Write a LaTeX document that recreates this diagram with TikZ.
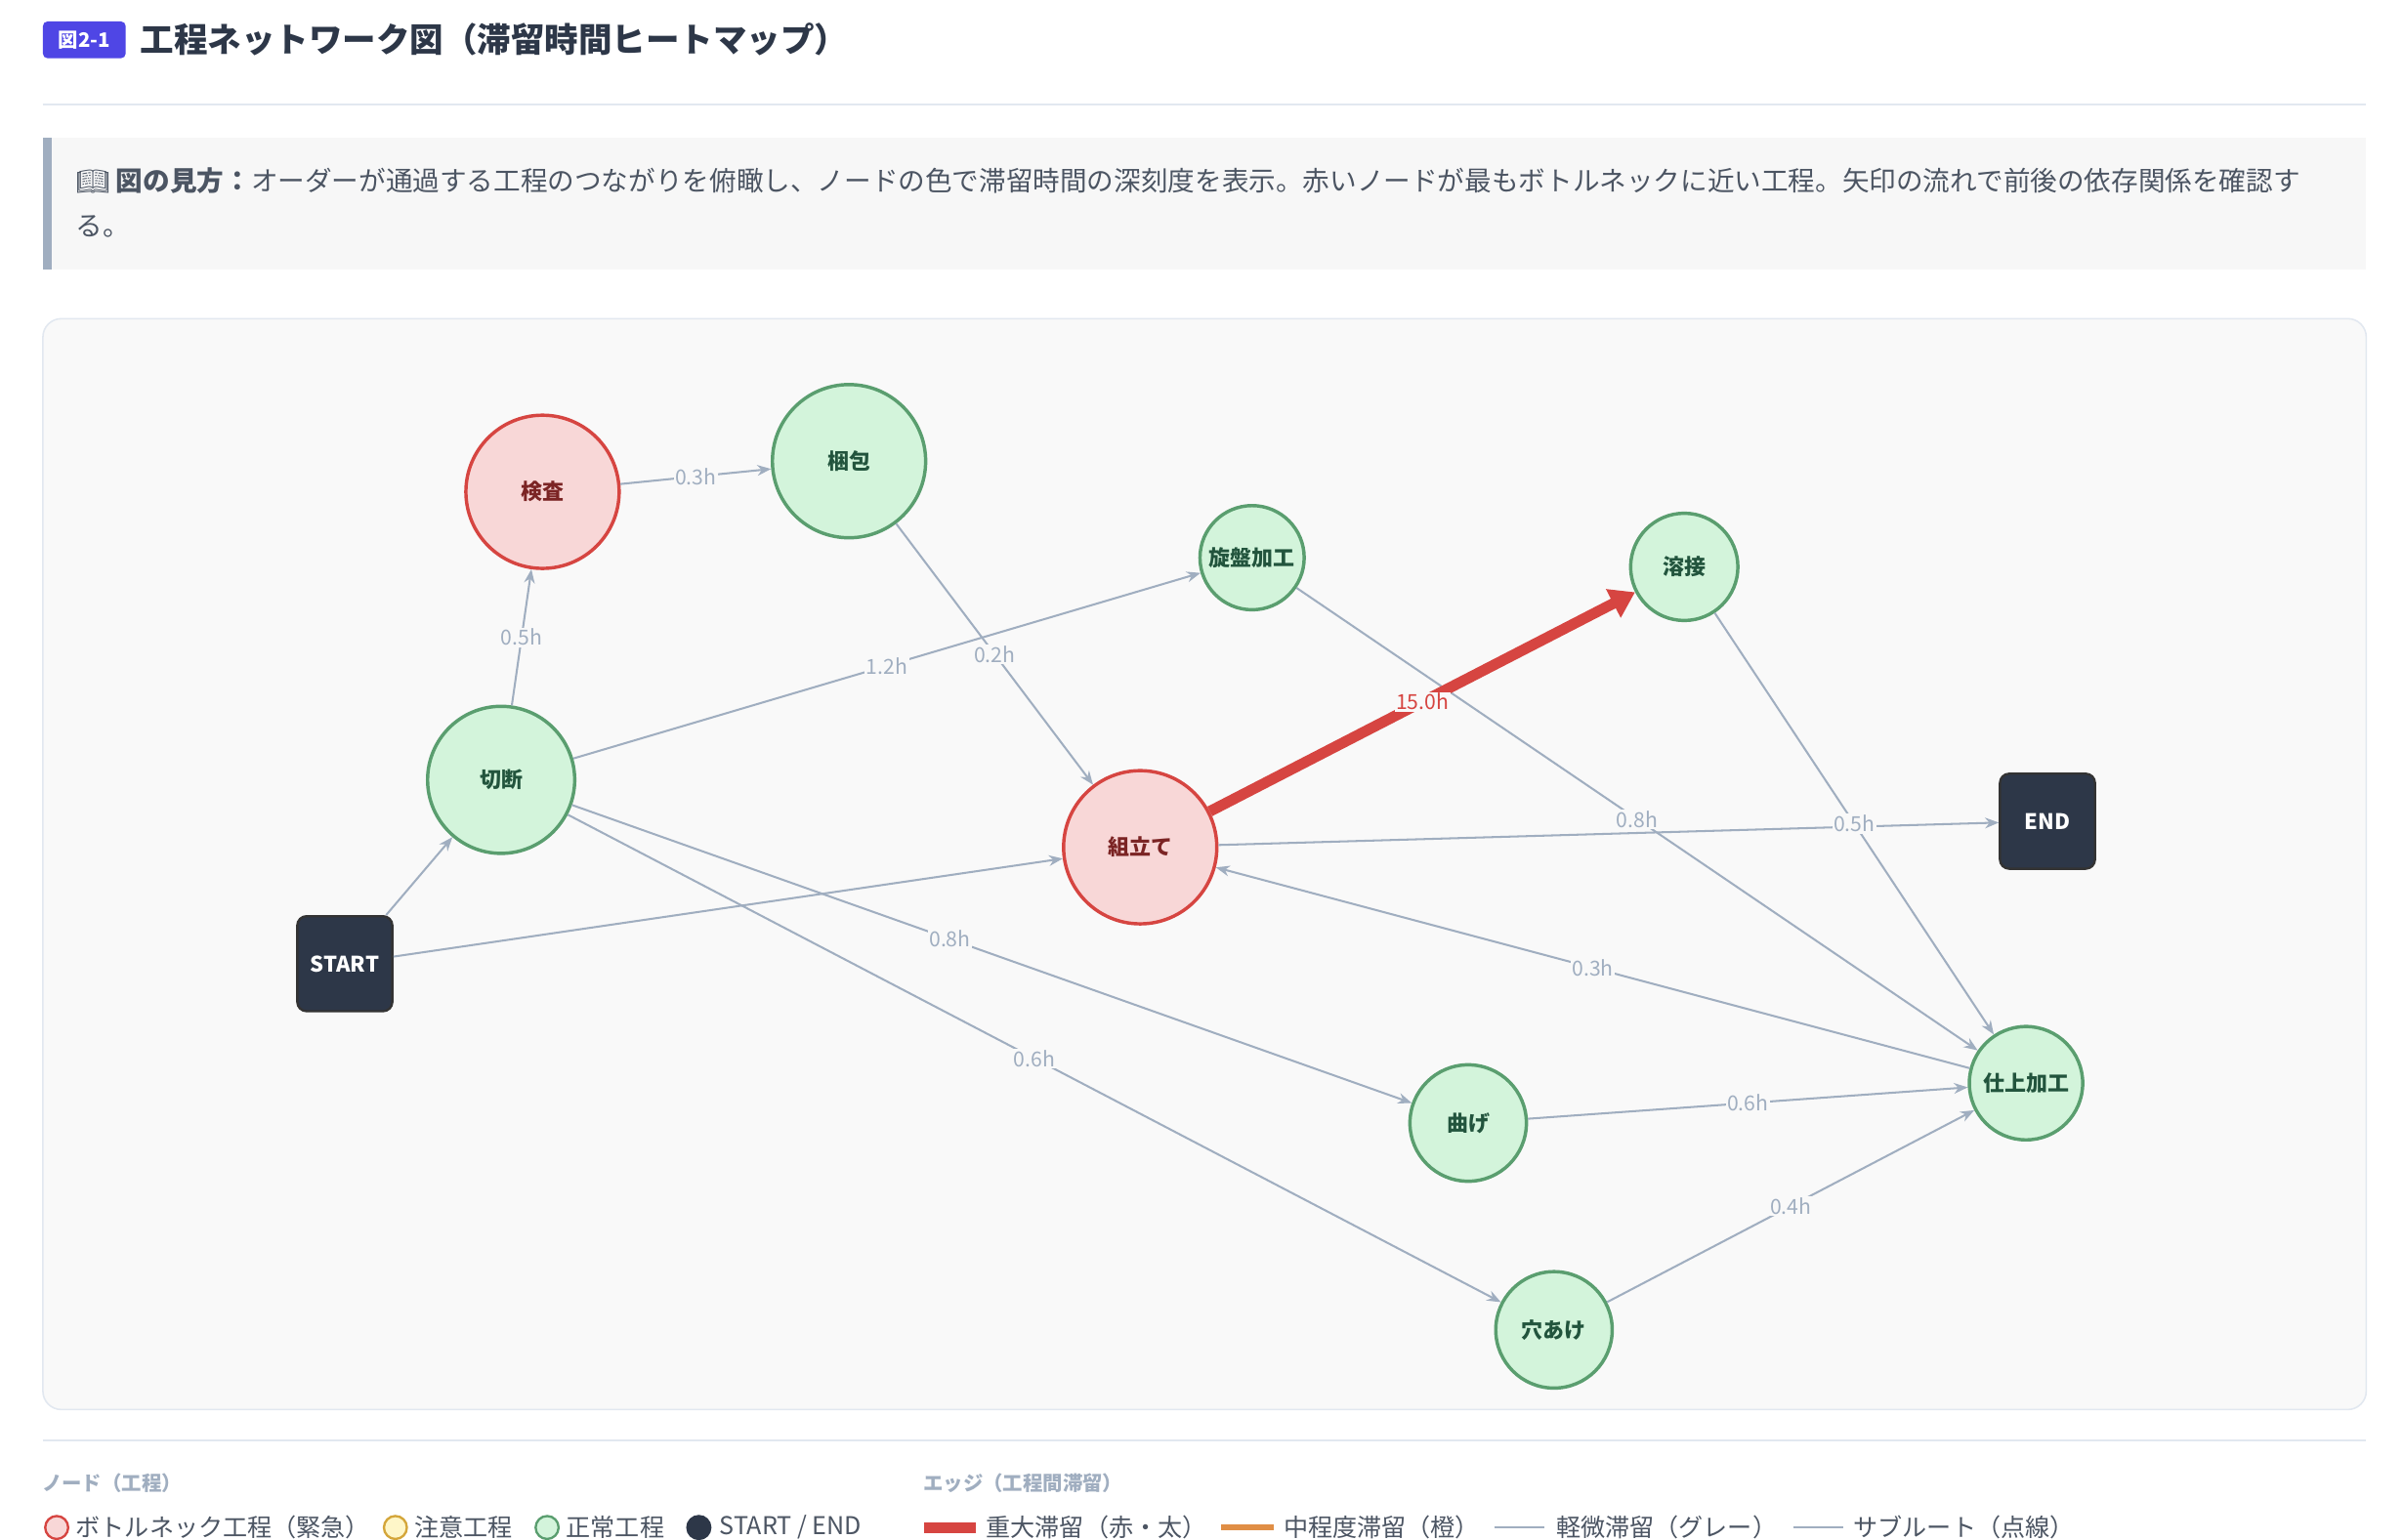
\documentclass[tikz,border=0pt]{standalone}
\usepackage{fontspec}
\setmainfont{Noto Sans CJK JP}
\newfontfamily\emojifont{Noto Emoji}
\usetikzlibrary{arrows.meta}
\definecolor{ink}{HTML}{2D3748}
\definecolor{muted}{HTML}{A0AEC0}
\definecolor{rule}{HTML}{E2E8F0}
\definecolor{panel}{HTML}{F9F9F9}
\definecolor{redfill}{HTML}{F8D7D7}
\definecolor{redline}{HTML}{D64541}
\definecolor{redtext}{HTML}{7B2424}
\definecolor{greenfill}{HTML}{D3F4DB}
\definecolor{greenline}{HTML}{5A9E6F}
\definecolor{greentext}{HTML}{22543D}
\definecolor{yellowline}{HTML}{D4A63A}
\definecolor{yellowfill}{HTML}{FEF6C8}
\definecolor{orangeline}{HTML}{E08E45}
\definecolor{badge}{HTML}{4F46E5}
\tikzset{
  redproc/.style={circle, draw=redline, line width=2.2pt, fill=redfill,
    text=redtext, font=\fontsize{14}{16}\selectfont\bfseries, inner sep=0pt},
  greenproc/.style={circle, draw=greenline, line width=2.2pt, fill=greenfill,
    text=greentext, font=\fontsize{14}{16}\selectfont\bfseries, inner sep=0pt},
  terminal/.style={rounded corners=6pt, draw=black!80, line width=1.5pt, fill=ink,
    text=white, minimum size=62pt, font=\fontsize{14}{16}\selectfont\bfseries},
  flow/.style={draw=muted, line width=1.3pt, -{Stealth[length=9pt,width=7pt]}},
  hot/.style={draw=redline, line width=7pt, -{Triangle[length=16pt,width=20pt]}},
  wait/.style={fill=panel, text=muted, inner sep=1pt,
    font=\fontsize{13.5}{15}\selectfont},
  legtext/.style={anchor=west, text=ink!85, font=\fontsize{16}{18}\selectfont}
}
\begin{document}
\begin{tikzpicture}[x=1pt, y=-1pt]
  \useasboundingbox (0,0) rectangle (1568,1005);
  \fill[white] (0,0) rectangle (1568,1005);

  % Title
  \node[fill=badge, rounded corners=3pt, text=white, minimum width=54pt,
    minimum height=24pt, inner sep=0pt, font=\fontsize{13}{15}\selectfont\bfseries]
    (badge) at (55,26) {図2-1};
  \node[anchor=west, text=ink, font=\fontsize{22}{26}\selectfont\bfseries]
    (title) at (88,26) {工程ネットワーク図（滞留時間ヒートマップ）};
  \draw[rule, line width=1.2pt] (28,68) -- (1544,68);

  % How to read
  \fill[black!3] (28,90) rectangle (1544,176);
  \fill[muted] (28,90) rectangle (34,176);
  \node[anchor=west, text=ink!85, font=\fontsize{17.6}{20}\selectfont] (read1) at (46,118)
    {{\emojifont 📖} \textbf{図の見方：}オーダーが通過する工程のつながりを俯瞰し、ノードの色で滞留時間の深刻度を表示。赤いノードが最もボトルネックに近い工程。矢印の流れで前後の依存関係を確認す};
  \node[anchor=west, text=ink!85, font=\fontsize{17.6}{20}\selectfont] (read2) at (46,148) {る。};

  % Network panel
  \draw[rule, fill=panel, rounded corners=12pt, line width=1pt] (28,208) rectangle (1544,920);

  % Processes
  \node[redproc, minimum size=100pt] (inspect) at (354,321) {検査};
  \node[greenproc, minimum size=100pt] (pack) at (554,301) {梱包};
  \node[greenproc, minimum size=68pt] (lathe) at (817,364) {旋盤加工};
  \node[greenproc, minimum size=70pt] (weld) at (1099,370) {溶接};
  \node[greenproc, minimum size=96pt] (cut) at (327,509) {切断};
  \node[redproc, minimum size=100pt] (assemble) at (744,553) {組立て};
  \node[terminal] (finish-end) at (1336,536) {END};
  \node[terminal] (start) at (225,629) {START};
  \node[greenproc, minimum size=74pt] (finish) at (1322,707) {仕上加工};
  \node[greenproc, minimum size=76pt] (bend) at (958,733) {曲げ};
  \node[greenproc, minimum size=76pt] (drill) at (1014,868) {穴あけ};

  % Connectors
  \draw[flow] (start) -- (cut);
  \draw[flow] (start) -- (assemble);
  \draw[flow] (inspect) -- node[wait] {0.3h} (pack);
  \draw[flow] (cut) -- node[wait] {0.5h} (inspect);
  \draw[flow] (cut) -- node[wait] {1.2h} (lathe);
  \draw[flow] (pack) -- node[wait] {0.2h} (assemble);
  \draw[flow] (assemble) -- (finish-end);
  \draw[flow] (lathe) -- node[wait] {0.8h} (finish);
  \draw[flow] (weld) -- node[wait] {0.5h} (finish);
  \draw[flow] (finish) -- node[wait] {0.3h} (assemble);
  \draw[flow] (cut) -- node[wait, pos=0.45] {0.8h} (bend);
  \draw[flow] (cut) -- node[wait, pos=0.5] {0.6h} (drill);
  \draw[flow] (bend) -- node[wait] {0.6h} (finish);
  \draw[flow] (drill) -- node[wait] {0.4h} (finish);
  \draw[hot] (assemble) -- node[wait, text=redline] {15.0h} (weld);

  % Legend
  \draw[rule, line width=1.2pt] (28,940) -- (1544,940);
  \node[anchor=west, text=muted, font=\fontsize{13}{15}\selectfont\bfseries] (nodehead) at (24,968) {ノード（工程）};
  \node[anchor=west, text=muted, font=\fontsize{13}{15}\selectfont\bfseries] (edgehead) at (599,968) {エッジ（工程間滞留）};
  \node[circle, draw=redline, fill=redfill, line width=1.5pt, minimum size=15pt, inner sep=0pt] (lg1) at (37,997) {};
  \node[legtext] at (46,997) {ボトルネック工程（緊急）};
  \node[circle, draw=yellowline, fill=yellowfill, line width=1.5pt, minimum size=15pt, inner sep=0pt] (lg2) at (258,997) {};
  \node[legtext] at (267,997) {注意工程};
  \node[circle, draw=greenline, fill=greenfill, line width=1.5pt, minimum size=15pt, inner sep=0pt] (lg3) at (357,997) {};
  \node[legtext] at (366,997) {正常工程};
  \node[circle, draw=ink, fill=ink, line width=1.5pt, minimum size=15pt, inner sep=0pt] (lg4) at (456,997) {};
  \node[legtext] at (466,997) {START / END};
  \draw[redline, line width=7pt] (603,997) -- (637,997);
  \node[legtext] at (640,997) {重大滞留（赤・太）};
  \draw[orangeline, line width=4pt] (797,997) -- (831,997);
  \node[legtext] at (834,997) {中程度滞留（橙）};
  \draw[muted, line width=1.5pt] (975,997) -- (1008,997);
  \node[legtext] at (1012,997) {軽微滞留（グレー）};
  \draw[muted, line width=1.5pt] (1170,997) -- (1203,997);
  \node[legtext] at (1206,997) {サブルート（点線）};
\end{tikzpicture}
\end{document}
